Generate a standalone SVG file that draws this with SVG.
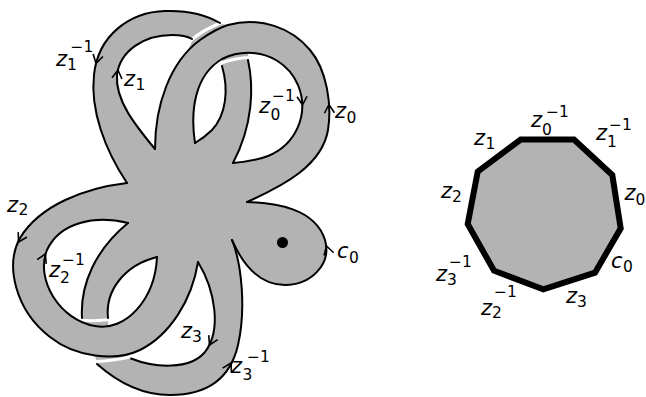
<svg xmlns="http://www.w3.org/2000/svg" xmlns:xlink="http://www.w3.org/1999/xlink" width="646" height="397" viewBox="0 0 646 397">
<style>
.fill{fill:#b3b3b3;stroke:none}
.hole{fill:#ffffff;stroke:none}
.edge{fill:none;stroke:#000;stroke-width:2;stroke-linejoin:round;stroke-linecap:round}
.halo{fill:none;stroke:#fff;stroke-width:3;stroke-linecap:butt}
.arr{fill:none;stroke:#000;stroke-width:1.6;stroke-linejoin:miter}
.lbl{font-family:"DejaVu Sans",sans-serif;font-size:21px;fill:#000}
.it{font-style:italic}
.sc{font-size:15.5px;font-style:normal}
.poly{fill:#b3b3b3;stroke:#000;stroke-width:6;stroke-linejoin:miter}
</style>
<defs>
<path id="chev" d="M-5,-8.5 L0,0 L5,-8.5"/>
</defs>
<g id="surface">
<path class="fill" d="M127,183 C105,150 90,110 94,75 C98,35 130,12 165,11 C190,10 208,16 221,24 L228,25 C260,16 292,28 310,50 C327,70 332,105 328,130 C322,165 285,185 247,202 C275,203 315,208 325,240 C332,265 310,285 285,285 C260,285 243,265 232,240 C242,265 246,310 238,345 C230,380 205,395 170,395 C140,395 115,380 97,363 L95,355.5 C78.75,353.25 62.5,347 50,337 C15,310 5,265 20,238 C40,205 85,188 127,183 Z"/>
<path class="hole" d="M155,149 C135,125 115,100 117,75 C120,50 145,35 172,35 C180,35 187,36 193,39 L187.5,51.25 C165.84,74.92 155,111.6 155,149 Z"/>
<path class="hole" d="M195,143 C190,110 195,75 222,59 L222,66 C229,90 226,115 212,130 C205,137 200,140 195,143 Z"/>
<path class="hole" d="M248,60 C254,87 253,125 233,163 C245,162 255,161 268,156 C295,145 310,115 298,85 C288.9,64 269.02,52.8 248.3,52.77 Z"/>
<path class="hole" d="M128,223 C95,215 60,222 47,250 C36.8,275.5 53.34,308.2 80,321.1 L82,318 C80,285 95,250 128,223 Z"/>
<path class="hole" d="M108,318 C105,290 125,265 157,257 C155.3,293.55 133.37,322.15 108.4,326.2 Z"/>
<path class="hole" d="M198,262 C215,290 222,330 205,352 C190,370 155,368 130,358 L127.84,354.26 C132.16,353.22 136.25,351.8 140,350 C170,335 192,300 198,262 Z"/>
</g>
<g id="crossings">
<path class="halo" d="M190,41 Q204,29 223,22"/>
<path class="halo" d="M220,63.5 Q235,58 250,57.5"/>
<path class="halo" d="M79,320 Q95,321.5 110,319.5"/>
<path class="halo" d="M95,361.5 Q113,361 132,356.5"/>
</g>
<g id="connectors">
<path class="edge" d="M127,183 C105,150 90,110 94,75 C98,35 130,12 165,11 C190,10 208,16 220,23"/>
<path class="edge" d="M155,149 C135,125 115,100 117,75 C120,50 145,35 172,35 C180,35 187,36 192,39"/>
<path class="edge" d="M155,149 C155,105 170,62 200,40 C210,33 218,28 228,25 C260,16 292,28 310,50 C327,70 332,105 328,130 C322,165 285,185 247,202"/>
<path class="edge" d="M195,143 C190,110 195,75 222,59 C230.4,54.8 239.43,52.76 248.3,52.77 C269.02,52.8 288.9,64 298,85 C310,115 295,145 268,156 C255,161 245,162 233,163"/>
<path class="edge" d="M222,66 C229,90 226,115 212,130 C205,137 200,140 195,143"/>
<path class="edge" d="M248,60 C254,87 253,125 233,163"/>
<path class="edge" d="M247,202 C275,203 315,208 325,240 C332,265 310,285 285,285 C260,285 243,265 232,240"/>
<path class="edge" d="M232,240 C242,265 246,310 238,345 C230,380 205,395 170,395 C140,395 115,380 97,364"/>
<path class="edge" d="M198,262 C215,290 222,330 205,352 C190,370 155,368 131,358.5"/>
<path class="edge" d="M127,183 C85,188 40,205 20,238 C5,265 15,310 50,337 C62.5,347 78.75,353.25 95,355.5 C111.25,357.75 127.5,356 140,350 C170,335 192,300 198,262"/>
<path class="edge" d="M128,223 C95,215 60,222 47,250 C35,280 60,320 95,326 C125,332 155,300 157,257"/>
<path class="edge" d="M82,318 C80,285 95,250 128,223"/>
<path class="edge" d="M108,318 C105,290 125,265 157,257"/>
<g class="arr">
<use xlink:href="#chev" transform="translate(96,63.5) rotate(14)"/>
<use xlink:href="#chev" transform="translate(118,70) rotate(-173)"/>
<use xlink:href="#chev" transform="translate(302.5,105) rotate(-3)"/>
<use xlink:href="#chev" transform="translate(329,104.5) rotate(177)"/>
<use xlink:href="#chev" transform="translate(18.5,242) rotate(29)"/>
<use xlink:href="#chev" transform="translate(45.3,254) rotate(-155)"/>
<use xlink:href="#chev" transform="translate(209.5,345) rotate(26)"/>
<use xlink:href="#chev" transform="translate(231,363) rotate(-152)"/>
<use xlink:href="#chev" transform="translate(326.5,246) rotate(164)"/>
</g>
</g>
<circle id="basepoint" cx="282.5" cy="242.5" r="5.5" fill="#000"/>
<g id="labels-left" class="lbl">
<text><tspan class="it" x="56" y="66">z</tspan><tspan class="sc" x="67" y="70">1</tspan><tspan class="sc" x="70.5" y="52">−1</tspan></text>
<text><tspan class="it" x="124" y="86">z</tspan><tspan class="sc" x="135.5" y="90">1</tspan></text>
<text><tspan class="it" x="259" y="113">z</tspan><tspan class="sc" x="270.5" y="120">0</tspan><tspan class="sc" x="272" y="101">−1</tspan></text>
<text><tspan class="it" x="335" y="118">z</tspan><tspan class="sc" x="346.5" y="123">0</tspan></text>
<text><tspan class="it" x="7" y="212">z</tspan><tspan class="sc" x="18.5" y="215">2</tspan></text>
<text><tspan class="it" x="49" y="277">z</tspan><tspan class="sc" x="60" y="283">2</tspan><tspan class="sc" x="62" y="265">−1</tspan></text>
<text><tspan class="it" x="181" y="338">z</tspan><tspan class="sc" x="192" y="342">3</tspan></text>
<text><tspan class="it" x="231" y="373">z</tspan><tspan class="sc" x="242.5" y="380">3</tspan><tspan class="sc" x="247" y="362">−1</tspan></text>
<text><tspan class="it" x="337" y="258">c</tspan><tspan class="sc" x="349" y="263">0</tspan></text>
</g>
<g id="polygon">
<polygon class="poly" points="520.7,139.5 574,139.5 612.3,175 620.7,228.3 595,272.7 543.3,289.3 494,270.7 467.7,224 477.7,171.7"/>
</g>
<g id="labels-right" class="lbl">
<text><tspan class="it" x="474" y="145">z</tspan><tspan class="sc" x="485.5" y="149">1</tspan></text>
<text><tspan class="it" x="531" y="127">z</tspan><tspan class="sc" x="542" y="135">0</tspan><tspan class="sc" x="546" y="117">−1</tspan></text>
<text><tspan class="it" x="596" y="140">z</tspan><tspan class="sc" x="607" y="147">1</tspan><tspan class="sc" x="609" y="130">−1</tspan></text>
<text><tspan class="it" x="441" y="198">z</tspan><tspan class="sc" x="452" y="202">2</tspan></text>
<text><tspan class="it" x="624.5" y="200">z</tspan><tspan class="sc" x="635.5" y="205">0</tspan></text>
<text><tspan class="it" x="611" y="268">c</tspan><tspan class="sc" x="623" y="272">0</tspan></text>
<text><tspan class="it" x="436" y="281">z</tspan><tspan class="sc" x="447" y="285">3</tspan><tspan class="sc" x="449" y="267">−1</tspan></text>
<text><tspan class="it" x="481" y="315">z</tspan><tspan class="sc" x="492" y="318">2</tspan><tspan class="sc" x="494" y="297">−1</tspan></text>
<text><tspan class="it" x="566" y="303">z</tspan><tspan class="sc" x="577" y="307">3</tspan></text>
</g>
</svg>
